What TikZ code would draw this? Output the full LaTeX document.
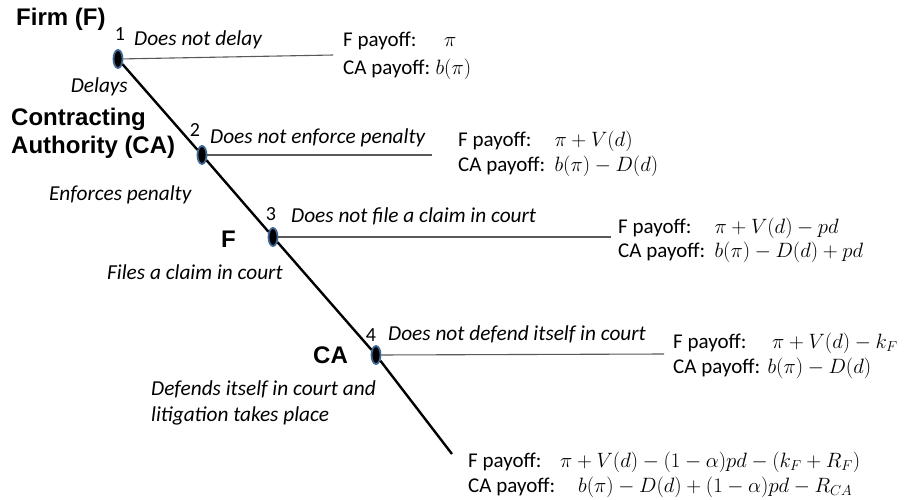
\documentclass[tikz,border=0pt]{standalone}
\usepackage{fontspec}
\setmainfont{Carlito}
\newfontfamily\headfont{Liberation Sans}
\usetikzlibrary{shapes.geometric}
\definecolor{nodeblue}{HTML}{3F6796}
\tikzset{
  dnode/.style={ellipse, draw=nodeblue, fill=black, line width=1.8pt, minimum width=9pt, minimum height=18pt, inner sep=0pt},
  mainline/.style={line width=2.4pt, black},
  branch/.style={line width=1.1pt, black!65},
  act/.style={font=\fontsize{21.3}{26}\selectfont\itshape, inner sep=0pt},
  pay/.style={font=\fontsize{21}{26}\selectfont, inner sep=0pt, anchor=base west},
  eq/.style={font=\fontsize{21.5}{26}\selectfont, inner sep=0pt, anchor=base west},
  num/.style={font=\fontsize{20}{24}\selectfont, inner sep=0pt},
  player/.style={font=\fontsize{24}{28}\selectfont\headfont\bfseries, inner sep=0pt, align=left},
}
\begin{document}
\begin{tikzpicture}[x=1pt,y=-1pt]
\useasboundingbox (0,0) rectangle (907,499);
% decision nodes
\node[dnode] (n1) at (118,59) {};
\node[dnode] (n2) at (202,155) {};
\node[dnode] (n3) at (273,237) {};
\node[dnode] (n4) at (376,355) {};
\coordinate (e) at (452,454);
\coordinate (b1) at (333,55);
\coordinate (b2) at (432,155);
\coordinate (b3) at (611,237);
\coordinate (b4) at (664,354);
% lines
\draw[branch] (n1) -- (b1);
\draw[branch] (n2) -- (b2);
\draw[branch] (n3) -- (b3);
\draw[branch] (n4) -- (b4);
\draw[mainline] (n1) -- (n2) -- (n3) -- (n4) -- (e);
% node numbers
\node[num] (k1) at (120,34) {1};
\node[num] (k2) at (195,130) {2};
\node[num] (k3) at (271,214) {3};
\node[num] (k4) at (371,335) {4};
% players
\node[player, anchor=base west] (p1) at (16,25) {Firm (F)};
\node[player, anchor=base west] (p2) at (11,153) {Contracting\\Authority (CA)};
\node[player, anchor=base west] (p3) at (221,247) {F};
\node[player, anchor=base west] (p4) at (313,363) {CA};
% actions
\node[act, anchor=base west] (a1) at (134,45) {Does not delay};
\node[act, anchor=base east] (a2) at (128,92) {Delays};
\node[act, anchor=base west] (a3) at (210,143) {Does not enforce penalty};
\node[act, anchor=base west] (a4) at (49,200) {Enforces penalty};
\node[act, anchor=base west] (a5) at (291,222) {Does not file a claim in court};
\node[act, anchor=base west] (a6) at (107,279) {Files a claim in court};
\node[act, anchor=base west] (a7) at (388,340) {Does not defend itself in court};
\node[act, anchor=base west, align=left] (a8) at (151,421) {Defends itself in court and\\litigation takes place};
% payoffs, node 1
\node[pay] (f1) at (343,46) {F payoff:};
\node[eq] (m1) at (444,46) {$\pi$};
\node[pay] (c1) at (343,74) {CA payoff:};
\node[eq] (d1) at ([xshift=5pt]c1.base east) {$b(\pi)$};
% node 2
\node[pay] (f2) at (458,146) {F payoff:};
\node[pay] (c2) at (458,171) {CA payoff:};
\node[eq] (d2) at ([xshift=9pt]c2.base east) {$b(\pi) - D(d)$};
\node[eq] (m2) at (d2.base west |- f2.base) {$\pi + V(d)$};
% node 3
\node[pay] (f3) at (618,233) {F payoff:};
\node[pay] (c3) at (618,257) {CA payoff:};
\node[eq] (d3) at ([xshift=9pt]c3.base east) {$b(\pi) - D(d) + pd$};
\node[eq] (m3) at (d3.base west |- f3.base) {$\pi + V(d) - pd$};
% node 4
\node[pay] (f4) at (673,348) {F payoff:};
\node[eq] (m4) at (772,348) {$\pi + V(d) - k_F$};
\node[pay] (c4) at (673,373) {CA payoff:};
\node[eq] (d4) at ([xshift=7pt]c4.base east) {$b(\pi) - D(d)$};
% litigation outcome
\node[pay] (f5) at (468,467) {F payoff:};
\node[eq] (m5) at (560,467) {$\pi + V(d) - (1-\alpha)pd - (k_F + R_F)$};
\node[pay] (c5) at (468,492) {CA payoff:};
\node[eq] (d5) at (578,492) {$b(\pi) - D(d) + (1-\alpha)pd - R_{CA}$};
\end{tikzpicture}
\end{document}
